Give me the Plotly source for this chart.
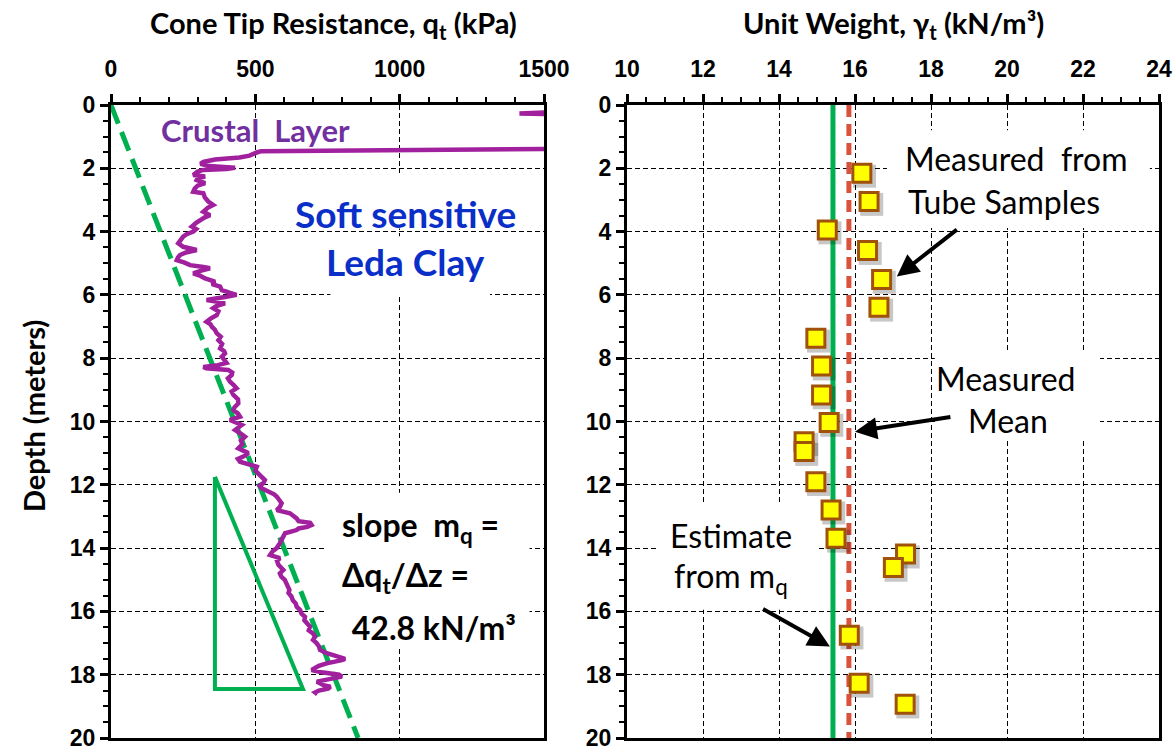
import numpy as np
import plotly.graph_objects as go

# ---------------- data ----------------
# Piezocone tip resistance profile: depth (m) and qt (kPa)
cpt_depth = [0.20, 0.26, 0.27, 0.30, 0.80, 1.38, 1.39, 1.42, 1.46, 1.50, 1.60, 1.66, 1.72, 1.80, 1.86,
             1.93, 1.98, 2.02, 2.05, 2.10, 2.21, 2.26, 2.32, 2.37, 2.47, 2.55, 2.64, 2.74, 2.79, 2.92,
             3.05, 3.16, 3.25, 3.37, 3.48, 3.55, 3.63, 3.72, 3.84, 3.92, 4.00, 4.08, 4.16, 4.26, 4.37,
             4.48, 4.53, 4.58, 4.66, 4.74, 4.82, 4.90, 4.98, 5.06, 5.12, 5.16, 5.24, 5.32, 5.40, 5.48,
             5.58, 5.66, 5.74, 5.85, 5.93, 6.00, 6.06, 6.12, 6.16, 6.22, 6.27, 6.35, 6.42, 6.52, 6.64,
             6.75, 6.85, 6.93, 7.00, 7.10, 7.21, 7.32, 7.43, 7.55, 7.69, 7.78, 7.85, 7.95, 8.05, 8.15,
             8.22, 8.28, 8.32, 8.37, 8.45, 8.53, 8.64, 8.74, 8.85, 8.95, 9.05, 9.16, 9.30, 9.43, 9.55,
             9.64, 9.75, 9.85, 9.95, 10.02, 10.11, 10.20, 10.27, 10.37, 10.48, 10.60, 10.72, 10.85, 10.93, 11.00,
             11.10, 11.18, 11.27, 11.35, 11.43, 11.55, 11.69, 11.78, 11.85, 11.95, 12.03, 12.11, 12.22, 12.30, 12.37,
             12.48, 12.58, 12.70, 12.80, 12.90, 12.98, 13.06, 13.15, 13.20, 13.27, 13.33, 13.38, 13.43, 13.53, 13.60,
             13.74, 13.85, 14.00, 14.10, 14.16, 14.22, 14.32, 14.40, 14.53, 14.62, 14.69, 14.80, 14.90, 15.00, 15.11,
             15.22, 15.32, 15.42, 15.53, 15.65, 15.75, 15.85, 15.96, 16.07, 16.17, 16.28, 16.38, 16.48, 16.60, 16.70,
             16.80, 16.90, 17.00, 17.10, 17.22, 17.32, 17.38, 17.43, 17.50, 17.54, 17.60, 17.64, 17.72, 17.80, 17.85,
             17.92, 18.00, 18.06, 18.12, 18.18, 18.22, 18.27, 18.33, 18.38, 18.44, 18.50, 18.56, 18.62]
cpt_qt = [1600, 1420, 1415, 1600, 2500, 1600, 1500, 1000, 520, 505, 480, 445, 360, 320, 310,
          340, 430, 400, 320, 300, 285, 326, 300, 297, 326, 300, 290, 285, 320, 325,
          337, 354, 335, 320, 343, 325, 308, 295, 280, 295, 285, 262, 250, 240, 233,
          250, 280, 297, 260, 239, 232, 228, 255, 274, 320, 343, 310, 285, 310, 326,
          360, 350, 378, 384, 410, 435, 400, 355, 331, 370, 395, 365, 354, 372, 366,
          345, 331, 345, 349, 360, 366, 380, 372, 385, 378, 392, 395, 384, 392, 400,
          370, 320, 330, 406, 420, 418, 405, 412, 425, 435, 418, 424, 440, 441, 428,
          424, 440, 447, 412, 430, 453, 440, 430, 447, 464, 450, 455, 441, 462, 476,
          460, 440, 447, 480, 505, 500, 516, 525, 533, 528, 515, 522, 551, 565, 574,
          585, 591, 585, 574, 620, 632, 643, 650, 690, 695, 680, 650, 643, 603, 600,
          591, 585, 574, 560, 557, 551, 585, 575, 580, 592, 597, 585, 590, 602, 609,
          612, 618, 615, 625, 630, 640, 643, 655, 660, 672, 670, 680, 689, 685, 700,
          707, 700, 712, 720, 724, 747, 770, 790, 811, 800, 760, 747, 720, 700, 695,
          730, 790, 800, 760, 720, 713, 724, 736, 760, 752, 720, 707, 715]

# Unit weights measured on tube samples
sample_depth = [2.16, 3.05, 3.95, 4.60, 5.51, 6.39, 7.37, 8.25, 9.16, 10.03,
                10.64, 10.95, 11.90, 12.80, 13.69, 14.19, 14.61, 16.75, 18.27, 18.93]
sample_gamma = [16.18, 16.37, 15.27, 16.33, 16.70, 16.63, 14.97, 15.12, 15.12, 15.32,
                14.66, 14.66, 14.97, 15.37, 15.50, 17.33, 17.01, 15.85, 16.11, 17.32]

mq = 42.8            # slope of qt with depth (kN/m3)
gamma_est = 15.42    # unit weight estimated from mq (kN/m3)
gamma_mean = float(np.mean(sample_gamma))

line_depth = [0, 20]
tri_q = [360, 360, 665, 360]
tri_z = [11.75, 18.45, 18.45, 11.75]

q_ticks = [0, 500, 1000, 1500]
gamma_ticks = [10, 12, 14, 16, 18, 20, 22, 24]
depth_ticks = [0, 2, 4, 6, 8, 10, 12, 14, 16, 18, 20]

# ---------------- styling ----------------
W, H = 1174, 750
GREEN = '#00B050'
PURPLE = '#A0209E'
RED = '#D9533C'
TXT = 'Lato'
NUM = 'Liberation Sans'


def px(x):
    return x / W


def py(y):
    return 1 - y / H


fig = go.Figure()

# left panel
fig.add_trace(go.Scatter(x=[mq * d for d in line_depth], y=line_depth, mode='lines',
                         line=dict(color=GREEN, width=5, dash='20px,9px'),
                         xaxis='x', yaxis='y', hoverinfo='skip'))
fig.add_trace(go.Scatter(x=cpt_qt, y=cpt_depth, mode='lines',
                         line=dict(color=PURPLE, width=4.5),
                         xaxis='x', yaxis='y'))
fig.add_trace(go.Scatter(x=tri_q, y=tri_z, mode='lines',
                         line=dict(color=GREEN, width=4),
                         xaxis='x', yaxis='y', hoverinfo='skip'))

# right panel
fig.add_trace(go.Scatter(x=[gamma_est, gamma_est], y=line_depth, mode='lines',
                         line=dict(color=GREEN, width=5),
                         xaxis='x2', yaxis='y2'))
fig.add_trace(go.Scatter(x=[gamma_mean, gamma_mean], y=line_depth, mode='lines',
                         line=dict(color=RED, width=5, dash='12px,7px'),
                         xaxis='x2', yaxis='y2'))
# soft drop shadow under the sample markers
shadow_dx, shadow_dz = 0.07, 0.09
fig.add_trace(go.Scatter(x=[g + shadow_dx for g in sample_gamma],
                         y=[d + shadow_dz for d in sample_depth], mode='markers',
                         marker=dict(symbol='square', size=23, color='rgba(0,0,0,0.22)',
                                     line=dict(width=0)),
                         xaxis='x2', yaxis='y2', hoverinfo='skip'))
fig.add_trace(go.Scatter(x=sample_gamma, y=sample_depth, mode='markers',
                         marker=dict(symbol='square', size=18, color='#FFFF00',
                                     line=dict(color='#A0520A', width=3)),
                         xaxis='x2', yaxis='y2'))

axis_common = dict(
    showline=True, linecolor='black', linewidth=3, mirror=True,
    ticks='outside', ticklen=8, tickwidth=2.5, tickcolor='black',
    showgrid=True, gridcolor='black', gridwidth=1.2, griddash='5px,3px',
    zeroline=False, automargin=False, ticklabeloverflow='allow',
    tickfont=dict(family=NUM, size=23, color='black', weight='bold'),
)

fig.update_layout(
    width=W, height=H,
    margin=dict(l=0, r=0, t=0, b=0),
    paper_bgcolor='white', plot_bgcolor='white',
    showlegend=False,
    xaxis=dict(axis_common, domain=[px(111), px(544)], range=[0, 1500], side='top',
               tickvals=q_ticks, ticklabelstandoff=8, anchor='y',
               minor=dict(dtick=100, tick0=0, ticks='outside', ticklen=5, tickwidth=2,
                          tickcolor='black', showgrid=False)),
    yaxis=dict(axis_common, domain=[py(738), py(105)], range=[20, 0],
               tickvals=depth_ticks, anchor='x',
               minor=dict(dtick=0.5, tick0=0, ticks='outside', ticklen=5, tickwidth=2,
                          tickcolor='black', showgrid=False)),
    xaxis2=dict(axis_common, domain=[px(627), px(1159)], range=[10, 24], side='top',
                tickvals=gamma_ticks, ticklabelstandoff=8, anchor='y2',
                minor=dict(dtick=0.5, tick0=10, ticks='outside', ticklen=5, tickwidth=2,
                           tickcolor='black', showgrid=False)),
    yaxis2=dict(axis_common, domain=[py(738), py(105)], range=[20, 0],
                tickvals=depth_ticks, anchor='x2',
                minor=dict(dtick=0.5, tick0=0, ticks='outside', ticklen=5, tickwidth=2,
                           tickcolor='black', showgrid=False)),
)

# white panels behind the text blocks (above grid, below traces)
blank_boxes = [
    ('x', 'y', 620, 1417, 2.15, 3.9),
    ('x', 'y', 760, 1313, 4.15, 6.05),
    ('x', 'y', 748, 1450, 12.25, 17.1),
    ('x2', 'y2', 16.84, 23.76, 0.8, 3.89),
    ('x2', 'y2', 18.1, 22.45, 7.8, 10.6),
    ('x2', 'y2', 10.8, 15.0, 12.54, 15.95),
]
for xr, yr, x0, x1, y0, y1 in blank_boxes:
    fig.add_shape(type='rect', xref=xr, yref=yr, x0=x0, x1=x1, y0=y0, y1=y1,
                  fillcolor='white', line=dict(width=0), layer='between')

ann = []


def label(text, x, y, size, color='black', bold=True, anchor='center', angle=0):
    ann.append(dict(text=f'<b>{text}</b>' if bold else text, x=px(x), y=py(y),
                    xref='paper', yref='paper', showarrow=False,
                    xanchor=anchor, yanchor='middle', textangle=angle,
                    font=dict(family=TXT, size=size, color=color)))


label('Cone Tip Resistance, q<sub>t</sub> (kPa)', 333, 24, 29)
label('Unit Weight, γ<sub>t</sub> (kN/m³)', 893, 24, 29)
label('Depth (meters)', 33, 416, 29, angle=-90)

label('Crustal\u00a0\u00a0Layer', 255, 130, 31, color='#7030A0')
label('Soft sensitive', 405, 213, 37, color='#0A2FC8')
label('Leda Clay', 405, 262, 37, color='#0A2FC8')

label('slope\u00a0\u00a0m<sub>q</sub> =', 340, 527, 32, anchor='left')
label('Δq<sub>t</sub>/Δz =', 340, 577, 32, anchor='left')
label(f'\u00a0{mq} kN/m³', 342, 627, 32, anchor='left')

label('Measured\u00a0\u00a0from', 1016, 158, 32, bold=False)
label('Tube Samples', 1004, 201, 32, bold=False)
label('Measured', 1006, 378, 32, bold=False)
label('Mean', 1008, 420, 32, bold=False)
label('Estimate', 731, 535, 32, bold=False)
label('from m<sub>q</sub>', 731, 578, 32, bold=False)

# arrows pointing at the samples, the mean line and the estimate line
arrows = [
    ((17.10, 5.42), (18.72, 3.90)),
    ((16.00, 10.32), (18.55, 9.85)),
    ((15.34, 17.11), (13.54, 15.90)),
]
for (hx, hz), (tx, tz) in arrows:
    ann.append(dict(x=hx, y=hz, ax=tx, ay=tz, xref='x2', yref='y2', axref='x2', ayref='y2',
                    showarrow=True, arrowhead=2, arrowsize=1.1, arrowwidth=4,
                    arrowcolor='black', text=''))

fig.update_layout(annotations=ann)

fig.write_html('out.html')
